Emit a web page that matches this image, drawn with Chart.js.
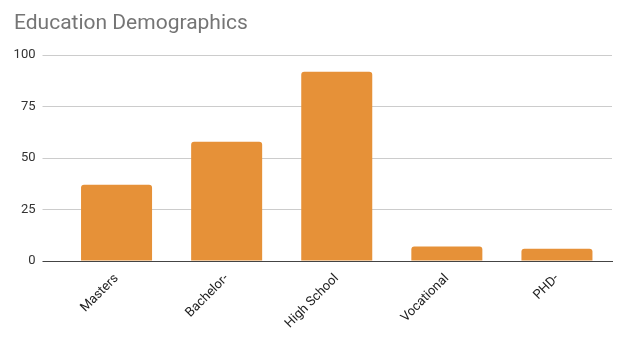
<!DOCTYPE html>
<html>
<head>
<meta charset="utf-8">
<title>Education Demographics</title>
<script src="https://cdn.jsdelivr.net/npm/chart.js@4/dist/chart.umd.min.js"></script>
<style>
  body { margin: 0; background: #fff; }
  #wrap { width: 622px; height: 359px; position: relative; }
</style>
</head>
<body>
<div id="wrap"><canvas id="chart"></canvas></div>
<script>
var categories = ["Masters", "Bachelor-", "High School", "Vocational", "PHD-"];
var counts = [37, 58, 92, 7, 6];
var yTicks = [0, 25, 50, 75, 100];

Chart.defaults.font.family = "Roboto, Arial, sans-serif";

var ctx = document.getElementById("chart").getContext("2d");

new Chart(ctx, {
  type: "bar",
  data: {
    labels: categories,
    datasets: [
      {
        label: "Count",
        data: counts,
        backgroundColor: "#e69138",
        borderRadius: { topLeft: 3, topRight: 3 },
        borderSkipped: "start",
        barPercentage: 0.645,
        categoryPercentage: 1,
      },
    ],
  },
  options: {
    responsive: true,
    maintainAspectRatio: false,
    animation: false,
    layout: { padding: { left: 14, right: 10, top: 0, bottom: 0 } },
    plugins: {
      legend: { display: false },
      tooltip: { enabled: false },
      title: {
        display: true,
        text: "Education Demographics",
        align: "start",
        color: "#757575",
        font: { size: 21, weight: "normal" },
        padding: { top: 11, bottom: 19 },
      },
    },
    scales: {
      x: {
        grid: { display: false },
        border: { color: "#444", width: 1 },
        ticks: {
          color: "#222",
          font: { size: 13 },
          maxRotation: 45,
          minRotation: 45,
          padding: 2,
        },
        afterFit: function (scale) {
          scale.height = 98;
        },
      },
      y: {
        min: 0,
        max: yTicks[yTicks.length - 1],
        afterBuildTicks: function (scale) {
          scale.ticks = yTicks.map(function (v) {
            return { value: v };
          });
        },
        border: { display: false },
        grid: {
          color: function (c) {
            return c.tick && c.tick.value === 0 ? "#444" : "#cccccc";
          },
          tickLength: 19,
          drawTicks: true,
        },
        ticks: {
          color: "#333",
          font: { size: 13 },
          padding: 7,
        },
        afterFit: function (scale) {
          scale.width = 47.5;
        },
      },
    },
  },
});
</script>
</body>
</html>
